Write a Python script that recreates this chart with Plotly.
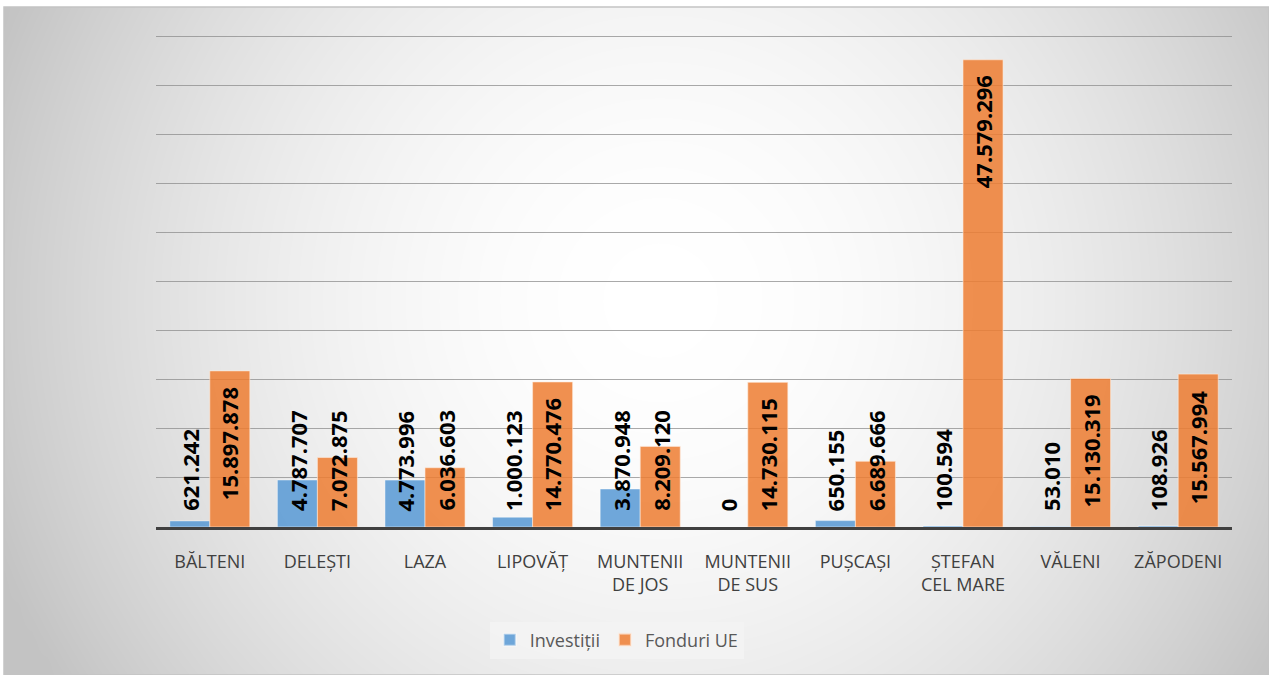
import numpy as np
import plotly.graph_objects as go

# ---- data ----
localitati = ["BĂLTENI", "DELEȘTI", "LAZA", "LIPOVĂȚ", "MUNTENII<br>DE JOS",
              "MUNTENII<br>DE SUS", "PUȘCAȘI", "ȘTEFAN<br>CEL MARE", "VĂLENI", "ZĂPODENI"]
investitii = [621242, 4787707, 4773996, 1000123, 3870948, 0, 650155, 100594, 53010, 108926]
fonduri_ue = [15897878, 7072875, 6036603, 14770476, 8209120, 14730115, 6689666, 47579296, 15130319, 15567994]

W, H = 1269, 675
Y_MAX = 50_000_000
Y_HEAD = 1.02  # a little headroom so the top gridline is kept

# plot area in pixels (0 at PX_B, Y_MAX at PX_T)
PX_L, PX_R, PX_T, PX_B = 156, 1232, 36, 527
plot_h = PX_B - PX_T
top_px = PX_B - plot_h * Y_HEAD
dom_x = [PX_L / W, PX_R / W]
dom_y = [(H - PX_B) / H, (H - top_px) / H]

BLUE = "rgba(91,155,213,0.88)"
ORANGE = "rgba(237,125,49,0.85)"
LABEL_FS = 22


def fmt(v):
    return f"{v:,}".replace(",", ".")


def text_len(s, fs):
    # approximate rendered length of a bold numeric label
    return sum((0.273 if c == "." else 0.572) * fs for c in s)


fig = go.Figure()

# radial background shading (subplot covering the frame)
gx = np.linspace(0, 1, 90)
gy = np.linspace(0, 1, 60)
fx0, fy0 = 4, 7
fw, fh = W - fx0, H - fy0
cx, cy = 660, 300
XX, YY = np.meshgrid(gx, gy)
px = fx0 + XX * fw
py = fy0 + (1 - YY) * fh
d = np.sqrt((px - cx) ** 2 + (py - cy) ** 2) / 700.0
shade = np.clip(255 - 58 * d ** 1.9, 195, 255)
fig.add_trace(go.Heatmap(
    x=gx, y=gy, z=shade, zmin=0, zmax=255, zsmooth="best",
    colorscale=[[0, "rgb(0,0,0)"], [1, "rgb(255,255,255)"]],
    showscale=False, hoverinfo="skip", xaxis="x", yaxis="y", showlegend=False,
))

idx = list(range(len(localitati)))
fig.add_trace(go.Bar(
    x=idx, y=investitii, name="Investiții", xaxis="x2", yaxis="y2",
    marker=dict(color=BLUE, line=dict(color="rgba(255,255,255,0.45)", width=1)),
))
fig.add_trace(go.Bar(
    x=idx, y=fonduri_ue, name="Fonduri UE", xaxis="x2", yaxis="y2",
    marker=dict(color=ORANGE, line=dict(color="rgba(255,235,220,0.6)", width=1)),
))

BARGAP = 0.256
off = (1 - BARGAP) / 4

annotations = []
label_font = dict(family="Open Sans", size=LABEL_FS, color="#000000")
base_pad = 14
top_pad = 14
for i in idx:
    # series 1: anchored at the base
    annotations.append(dict(
        x=i - off, y=0, xref="x2", yref="y2", text=f"<b>{fmt(investitii[i])}</b>",
        textangle=-90, showarrow=False, xanchor="center", yanchor="bottom",
        yshift=base_pad, font=label_font,
    ))
    # series 2: inside end, dropped to the base when it would overflow
    s = fmt(fonduri_ue[i])
    bar_px = fonduri_ue[i] / Y_MAX * plot_h
    if bar_px - (top_pad + 2) - text_len(s, LABEL_FS) >= base_pad + 2:
        annotations.append(dict(
            x=i + off, y=fonduri_ue[i], xref="x2", yref="y2", text=f"<b>{s}</b>",
            textangle=-90, showarrow=False, xanchor="center", yanchor="top",
            yshift=-top_pad, font=label_font,
        ))
    else:
        annotations.append(dict(
            x=i + off, y=0, xref="x2", yref="y2", text=f"<b>{s}</b>",
            textangle=-90, showarrow=False, xanchor="center", yanchor="bottom",
            yshift=base_pad, font=label_font,
        ))

fig.update_layout(
    width=W, height=H,
    margin=dict(l=0, r=0, t=0, b=0),
    paper_bgcolor="white",
    plot_bgcolor="rgba(0,0,0,0)",
    barmode="group", bargap=BARGAP, bargroupgap=0,
    xaxis=dict(domain=[fx0 / W, 1], range=[0, 1], visible=False, fixedrange=True),
    yaxis=dict(domain=[0, (H - fy0) / H], range=[0, 1], visible=False, fixedrange=True),
    xaxis2=dict(
        domain=dom_x, anchor="y2", range=[-0.5, len(idx) - 0.5],
        tickmode="array", tickvals=idx, ticktext=localitati,
        showgrid=False, zeroline=False, showline=True, linecolor="#404040", linewidth=3,
        ticks="", ticklabelstandoff=16,
        tickfont=dict(family="Open Sans", size=18, color="#404040"),
    ),
    yaxis2=dict(
        domain=dom_y, anchor="x2", range=[0, Y_MAX * Y_HEAD], dtick=5_000_000,
        showticklabels=False, showgrid=True, gridcolor="rgba(140,140,140,0.75)", gridwidth=1.3,
        zeroline=False, ticks="",
    ),
    legend=dict(
        orientation="h", x=0.486, y=(H - 640) / H, xanchor="center", yanchor="middle",
        bgcolor="rgba(242,242,242,0.95)", borderwidth=0,
        font=dict(family="Open Sans", size=18, color="#595959"),
        itemsizing="constant", traceorder="normal",
    ),
    annotations=annotations,
    shapes=[dict(
        type="rect", xref="paper", yref="paper", x0=fx0 / W, x1=1, y0=0, y1=(H - fy0) / H,
        line=dict(color="#c4c4c4", width=1.5), fillcolor="rgba(0,0,0,0)", layer="above",
    )],
    showlegend=True,
)

fig.write_html("out.html")
